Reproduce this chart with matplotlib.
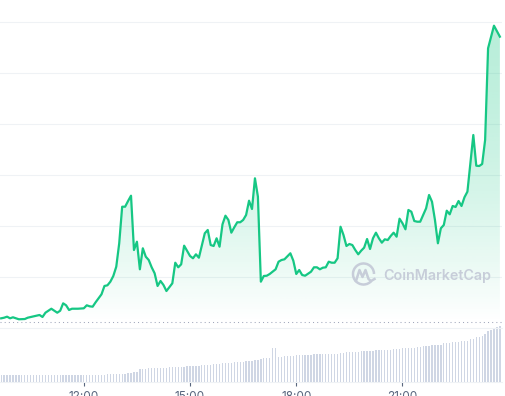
import numpy as np
import matplotlib.pyplot as plt
from matplotlib.patches import Arc
from matplotlib.ticker import FixedLocator, FixedFormatter

# 5-minute candles, first one at 09:40
START_MIN = 9 * 60 + 40
STEP_MIN = 5

# price line: candle index -> price (USD)
price_step = [
    0, 1, 2, 3, 4, 6, 8, 9, 11, 13, 14, 15, 17, 18, 19, 20, 21, 22, 23, 24,
    26, 28, 29, 30, 31, 32, 33, 34, 35, 36, 37, 38, 39, 40, 41, 42, 43, 44, 45, 46,
    47, 48, 49, 50, 51, 52, 53, 54, 55, 56, 58, 59, 60, 61, 62, 64, 65, 66, 67, 69,
    70, 71, 72, 73, 74, 75, 76, 77, 78, 79, 80, 81, 82, 83, 84, 85, 86, 87, 88, 89,
    90, 91, 93, 94, 95, 96, 98, 99, 100, 101, 102, 103, 105, 106, 107, 108, 109, 110, 111, 112,
    113, 114, 115, 116, 117, 118, 119, 120, 121, 122, 123, 124, 125, 126, 127, 128, 129, 130, 131, 132,
    133, 134, 135, 136, 137, 138, 139, 140, 141, 142, 143, 144, 145, 146, 147, 148, 149, 150, 151, 152,
    153, 154, 155, 156, 157, 158, 159, 160, 161, 162, 163, 164, 165, 167, 169,
]
price_usd = [
    2.0190, 2.0202, 2.0222, 2.0190, 2.0210, 2.0171, 2.0176, 2.0202, 2.0229, 2.0255,
    2.0216, 2.0300, 2.0378, 2.0339, 2.0300, 2.0339, 2.0484, 2.0445, 2.0353, 2.0378,
    2.0378, 2.0386, 2.0445, 2.0425, 2.0418, 2.0504, 2.0582, 2.0661, 2.0824, 2.0837,
    2.0908, 2.1020, 2.1202, 2.1661, 2.2378, 2.2378, 2.2490, 2.2594, 2.1529, 2.1692,
    2.1151, 2.1563, 2.1398, 2.1333, 2.1190, 2.1073, 2.0824, 2.0922, 2.0843, 2.0725,
    2.0876, 2.1280, 2.1190, 2.1249, 2.1614, 2.1412, 2.1367, 2.1445, 2.1378, 2.1857,
    2.1922, 2.1627, 2.1608, 2.1759, 2.1594, 2.2033, 2.2202, 2.2118, 2.1869, 2.1975,
    2.2073, 2.2073, 2.2118, 2.2216, 2.2496, 2.2333, 2.2935, 2.2575, 2.0908, 2.1020,
    2.1025, 2.1059, 2.1151, 2.1300, 2.1333, 2.1347, 2.1465, 2.1320, 2.1059, 2.1137,
    2.1039, 2.1025, 2.1104, 2.1190, 2.1190, 2.1151, 2.1182, 2.1190, 2.1300, 2.1280,
    2.1280, 2.1367, 2.1986, 2.1824, 2.1608, 2.1647, 2.1627, 2.1529, 2.1445, 2.1516,
    2.1575, 2.1745, 2.1549, 2.1759, 2.1869, 2.1759, 2.1673, 2.1739, 2.1725, 2.1804,
    2.1869, 2.1790, 2.2143, 2.2053, 2.1935, 2.2314, 2.2280, 2.2098, 2.2084, 2.2084,
    2.2216, 2.2347, 2.2608, 2.2476, 2.2118, 2.1661, 2.1955, 2.2020, 2.2300, 2.2229,
    2.2392, 2.2373, 2.2490, 2.2392, 2.2563, 2.2673, 2.3229, 2.3784, 2.3182, 2.3176,
    2.3216, 2.3686, 2.5484, 2.5927, 2.5712,
]

# volume per candle (millions USD), one value per candle 0..169
volume_m = [
    7, 7, 7, 7, 7, 7, 7, 7, 7, 7, 7, 7, 7, 7, 7, 7, 7, 7, 7, 7,
    7, 7, 7, 7, 7, 7, 7, 7, 7, 7, 7, 7, 7, 7, 7, 7, 8, 8, 8, 8,
    8, 8, 8, 9, 9, 10, 10, 13, 13, 13, 14, 14, 14, 14, 14, 14, 14, 15, 15, 15,
    15, 15, 15, 16, 16, 16, 16, 16, 17, 17, 17, 17, 18, 18, 18, 19, 19, 19, 19, 20,
    20, 20, 20, 21, 21, 21, 22, 22, 23, 24, 24, 24, 34, 34, 25, 25, 26, 26, 26, 26,
    27, 27, 27, 27, 27, 27, 28, 28, 28, 28, 28, 28, 28, 28, 28, 29, 29, 30, 30, 30,
    30, 30, 31, 31, 31, 31, 31, 32, 32, 32, 32, 32, 32, 33, 33, 33, 34, 34, 34, 34,
    34, 35, 35, 36, 36, 36, 37, 37, 37, 37, 39, 39, 39, 40, 40, 40, 41, 41, 41, 43,
    43, 45, 45, 46, 48, 51, 52, 53, 55, 56,
]

tick_minutes = [720, 900, 1080, 1260]
tick_labels = ["12:00", "15:00", "18:00", "21:00"]
grid_levels = [2.1, 2.2, 2.3, 2.4, 2.5, 2.6]
open_price = 2.0127

GREEN = "#16c784"
W, H = 506, 396
XMIN, XMAX = 578, 1428.6
PMIN, PMAX = 2.0, 2.6431


def px_box(left, top, right, bottom):
    ''' figure rectangle from pixel edges (origin top-left) '''
    return [left / W, 1 - bottom / H, (right - left) / W, (bottom - top) / H]


def main():
    fig = plt.figure(figsize=(W / 100, H / 100), dpi=100)
    fig.patch.set_facecolor("white")

    # volume panel
    ax_vol = fig.add_axes(px_box(0, 318, 502, 381.5))
    ax_vol.set_facecolor("none")
    vol_x = [START_MIN + STEP_MIN * i for i in range(len(volume_m))]
    ax_vol.bar(vol_x, volume_m, width=2.2, color="#cfd6e4", linewidth=0)
    ax_vol.set_xlim(XMIN, XMAX)
    ax_vol.set_ylim(0, 63.5)
    for side in ["top", "left", "right"]:
        ax_vol.spines[side].set_visible(False)
    ax_vol.spines["bottom"].set_color("#eff2f5")
    ax_vol.spines["bottom"].set_linewidth(0.75)
    ax_vol.yaxis.set_visible(False)
    ax_vol.xaxis.set_major_locator(FixedLocator(tick_minutes))
    ax_vol.xaxis.set_major_formatter(FixedFormatter(tick_labels))
    ax_vol.tick_params(axis="x", length=3, width=0.8, color="#58667e",
                       labelcolor="#58667e", labelsize=8.5, pad=4)
    for lab in ax_vol.get_xticklabels():
        lab.set_family("Inter")

    # price panel
    ax = fig.add_axes(px_box(0, 0, 502, 328))
    ax.set_facecolor("none")
    xs = np.array([START_MIN + STEP_MIN * s for s in price_step], dtype=float)
    ys = np.array(price_usd)

    for lvl in grid_levels:
        ax.axhline(lvl, color="#eff2f5", lw=0.8, zorder=0)
    ax.axhline(PMIN, color="#eff2f5", lw=0.8, zorder=0, clip_on=False)

    # gradient fill under the line
    fill = ax.fill_between(xs, ys, PMIN, color="none", lw=0)
    rows = 400
    prices = np.linspace(PMIN, PMAX, rows)
    ypix = 328 - (prices - PMIN) * 510
    frac = np.clip((ypix - 22) / 300, 0, 1)
    alpha = 0.3 * (1 - frac ** 1.6)
    grad = np.zeros((rows, 1, 4))
    grad[:, 0, 0] = 22 / 255
    grad[:, 0, 1] = 199 / 255
    grad[:, 0, 2] = 132 / 255
    grad[:, 0, 3] = alpha
    img = ax.imshow(grad, extent=[XMIN, XMAX, PMIN, PMAX], aspect="auto",
                    origin="lower", zorder=1, interpolation="bilinear")
    img.set_clip_path(fill.get_paths()[0], ax.transData)

    ax.axhline(open_price, color="#a1a7bb", lw=0.75, ls=(0, (1, 3)), zorder=2)
    ax.plot(xs, ys, color=GREEN, lw=1.6, zorder=3)

    ax.set_xlim(XMIN, XMAX)
    ax.set_ylim(PMIN, PMAX)
    ax.axis("off")

    # watermark
    wm = fig.add_axes([0, 0, 1, 1])
    wm.set_xlim(0, W)
    wm.set_ylim(H, 0)
    wm.axis("off")
    wm_color = "#c7cdd9"
    wm.add_patch(Arc((363.5, 274), 21, 21, theta1=40, theta2=360,
                     color=wm_color, lw=1.8))
    wm.plot([356, 359.5, 362.5, 365.5, 368.5, 371, 374.5],
            [281, 270, 277, 270, 279, 281, 279],
            color=wm_color, lw=1.8, solid_joinstyle="round")
    wm.text(383, 275.5, "CoinMarketCap", color=wm_color, fontsize=10.3,
            fontweight="semibold", family="Inter", va="center", ha="left")

    fig.savefig("out.png", dpi=100)


main()
